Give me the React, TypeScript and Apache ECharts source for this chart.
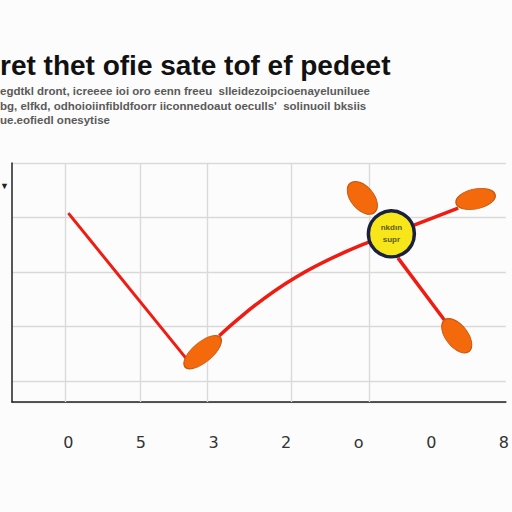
import React, { useEffect, useRef } from "react";
import * as echarts from "echarts";

const titleText = "ret thet ofie sate tof ef pedeet";
const subLines = [
  "egdtkl dront, icreeee ioi oro eenn freeu  slleidezoipcioenayeluniluee",
  "bg, elfkd, odhoioiinfibldfoorr iiconnedoaut oeculls'  solinuoil bksiis",
  "ue.eofiedl onesytise",
];
const xTickValues = [0, 1, 2, 3, 4, 5, 6];
const xTickLabels = ["0", "5", "3", "2", "o", "0", "8"];
const gridXs = [-0.04, 0.99, 1.92, 3.07, 4.15];
const declineLine = [[0, 0.92], [1.62, 3.58]];
const recoveryCurve = [[2.08, 3.17], [3.14, 2.09], [4.45, 1.3]];
const upBranch = [[4.45, 1.3], [5.37, 0.83]];
const downBranch = [[4.54, 1.74], [5.18, 2.88]];
const petals = [[1.85, 3.47], [4.05, 0.64], [5.61, 0.66], [5.35, 3.17]];
const hub = [[4.45, 1.3]];
const hubText = "nkdın\nsupr";

const petalRotate = [40, -50, 12, -52];
const petalSize = [[46, 20], [38, 23], [40, 20], [40, 22]];
const ellipse = "path://M0,10A20,10 0 1,1 40,10A20,10 0 1,1 0,10Z";

const RED = "#ee1c12";
const ORANGE = "#f4690c";

export default function App() {
  const ref = useRef<HTMLDivElement>(null);
  useEffect(() => {
    document.body.style.margin = "0";
    const chart = echarts.init(ref.current!, null, { renderer: "svg" });
    const lineBase = {
      type: "line",
      symbol: "none",
      lineStyle: { color: RED, width: 3.5 },
      z: 2,
    };
    chart.setOption({
      animation: false,
      backgroundColor: "#fcfcfc",
      title: {
        text: titleText,
        subtext: subLines.join("\n"),
        left: -5,
        top: 45,
        itemGap: 4,
        textStyle: {
          fontFamily: "Liberation Sans",
          fontWeight: "bold",
          fontSize: 28,
          color: "#111",
          lineHeight: 30,
        },
        subtextStyle: {
          fontFamily: "Liberation Sans",
          fontWeight: "bold",
          fontSize: 11.5,
          color: "#5a5a5a",
          lineHeight: 14.5,
        },
      },
      graphic: [
        {
          type: "text",
          left: 0,
          top: 181,
          style: { text: "▼", fontSize: 9, fill: "#222" },
        },
      ],
      grid: { left: 12, right: 0, top: 163, bottom: 110 },
      xAxis: {
        type: "value",
        min: -0.776,
        max: 6.027,
        axisLine: { show: true, onZero: false, lineStyle: { color: "#222", width: 1.5 } },
        axisTick: { show: false },
        splitLine: { show: false },
        axisLabel: {
          customValues: xTickValues,
          formatter: (v: number) => xTickLabels[Math.round(v)] ?? "",
          margin: 32,
          fontSize: 16,
          fontFamily: "DejaVu Sans",
          color: "#333",
        },
      },
      yAxis: {
        type: "value",
        inverse: true,
        min: 0,
        max: 4.385,
        interval: 1,
        axisLine: { show: true, onZero: false, lineStyle: { color: "#222", width: 1.5 } },
        axisTick: { show: false },
        axisLabel: { show: false },
        splitLine: { show: true, lineStyle: { color: "#d9d9d9", width: 1.4 } },
      },
      series: [
        {
          ...lineBase,
          data: declineLine,
          lineStyle: { color: RED, width: 3 },
          markLine: {
            silent: true,
            symbol: "none",
            label: { show: false },
            lineStyle: { color: "#dadada", width: 1.4, type: "solid" },
            data: gridXs.map((v) => ({ xAxis: v })),
            z: 1,
          },
        },
        { ...lineBase, data: recoveryCurve, smooth: true },
        { ...lineBase, data: upBranch },
        { ...lineBase, data: downBranch },
        {
          type: "scatter",
          z: 3,
          data: petals.map((p, i) => ({
            value: p,
            symbolRotate: petalRotate[i],
            symbolSize: petalSize[i],
          })),
          symbol: ellipse,
          itemStyle: { color: ORANGE, borderColor: "#c8560c", borderWidth: 1, opacity: 1 },
        },
        {
          type: "scatter",
          z: 4,
          data: hub,
          symbol: "circle",
          symbolSize: 46,
          itemStyle: { color: "#f6e61a", borderColor: "#1a2140", borderWidth: 3.5, opacity: 1 },
          label: {
            show: true,
            position: "inside",
            formatter: hubText,
            fontSize: 8,
            fontWeight: "bold",
            lineHeight: 12,
            color: "#5f5c1c",
          },
        },
      ],
    });
    return () => chart.dispose();
  }, []);
  return (
    <div
      ref={ref}
      style={{ position: "fixed", left: 0, top: 0, width: 512, height: 512 }}
    />
  );
}
